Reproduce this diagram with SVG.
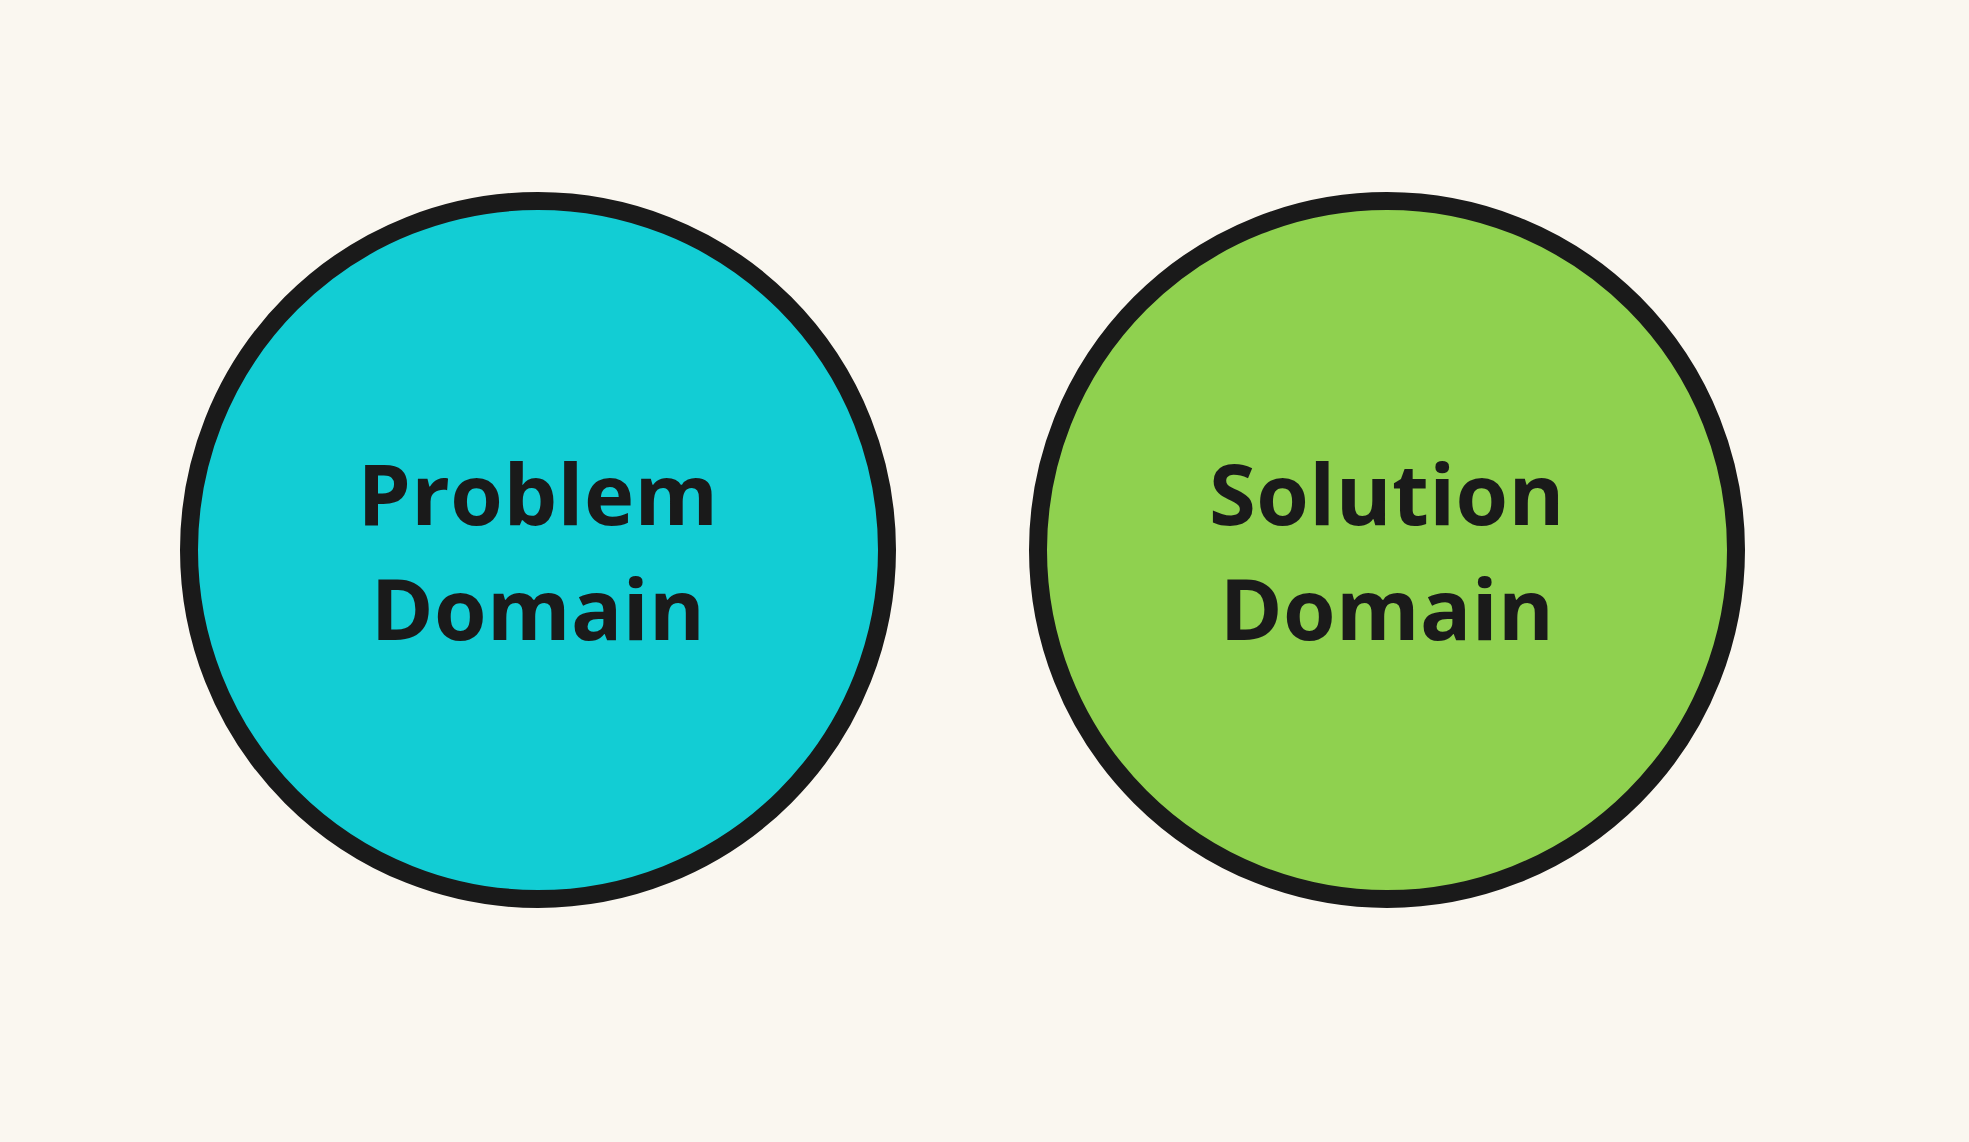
<svg xmlns="http://www.w3.org/2000/svg" width="1969" height="1142" viewBox="0 0 1969 1142">
<style>
.node{stroke:#1a1a1a;stroke-width:18}
.lbl{font-family:"Open Sans","Noto Sans","Liberation Sans",sans-serif;font-weight:700;font-size:85px;fill:#1a1a1a;text-anchor:middle;letter-spacing:0.4px}
</style>
<rect width="1969" height="1142" fill="#faf7f0"/>
<g id="connectors"></g>
<g id="problem-domain">
<circle class="node" cx="538" cy="550" r="349" fill="#12cdd4"/>
<text class="lbl" x="538" y="525">Problem</text>
<text class="lbl" x="538" y="640">Domain</text>
</g>
<g id="solution-domain">
<circle class="node" cx="1387" cy="550" r="349" fill="#8fd14f"/>
<text class="lbl" x="1387" y="525">Solution</text>
<text class="lbl" x="1387" y="640">Domain</text>
</g>
</svg>
